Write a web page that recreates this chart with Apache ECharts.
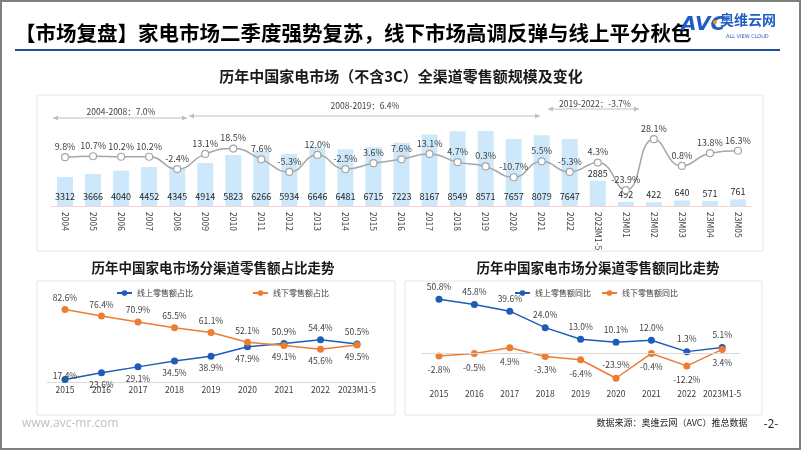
<!DOCTYPE html>
<html><head><meta charset="utf-8">
<script src="https://cdn.jsdelivr.net/npm/echarts@6/dist/echarts.min.js"></script>
<style>html,body{margin:0;padding:0;background:#fff}#c{width:802px;height:451px}</style>
</head><body><div id="c"></div>
<script>
// ---- Data ----
const categories = ['2004','2005','2006','2007','2008','2009','2010','2011','2012','2013','2014','2015','2016','2017','2018','2019','2020','2021','2022','2023M1-5','23M01','23M02','23M03','23M04','23M05'];
const sales = [3312,3666,4040,4452,4345,4914,5823,6266,5934,6646,6481,6715,7223,8167,8549,8571,7657,8079,7647,2885,492,422,640,571,761];
const growth = [9.8,10.7,10.2,10.2,-2.4,13.1,18.5,7.6,-5.3,12.0,-2.5,3.6,7.6,13.1,4.7,0.3,-10.7,5.5,-5.3,4.3,-23.9,28.1,0.8,13.8,16.3];

const years = ['2015','2016','2017','2018','2019','2020','2021','2022','2023M1-5'];
const onlineShare = [17.4,23.6,29.1,34.5,38.9,47.9,50.9,54.4,50.5];
const offlineShare = [82.6,76.4,70.9,65.5,61.1,52.1,49.1,45.6,49.5];
const onlineYoY = [50.8,45.8,39.6,24.0,13.0,10.1,12.0,1.3,5.1];
const offlineYoY = [-2.8,-0.5,4.9,-3.3,-6.4,-23.9,-0.4,-12.2,3.4];

const FONT = '"Noto Sans CJK SC","Noto Sans",sans-serif';
const BLUE = '#1f5cb8', ORANGE = '#ed7d31', TXT = '#404040';
const FS = 8.5;

const chart = echarts.init(document.getElementById('c'), null, {renderer:'canvas'});
const pct = p => p.value.toFixed(1) + '%';

const barData = sales.map((v,i) => i >= 19 ? {value:v, label:{position:'top', distance:3}} : v);
const onShareData = onlineShare.map((v,i) => ({value:v, label:{position: i === 0 ? 'inside' : (v > offlineShare[i] ? 'top' : 'bottom'), offset: i === 0 ? [0,-4] : [0,0]}}));
const offShareData = offlineShare.map((v,i) => ({value:v, label:{position: v > onlineShare[i] ? 'top' : 'bottom'}}));
const offYoYData = offlineYoY.map((v,i) => ({value:v, label:{position: v < -20 ? 'top' : 'bottom'}}));

function arrow(x1, x2, y, color) {
  const a = 5, h = 2.5;
  return [
    {type:'line', shape:{x1:x1, y1:y, x2:x2, y2:y}, style:{stroke:color, lineWidth:1}},
    {type:'polygon', shape:{points:[[x1,y],[x1+a,y-h],[x1+a,y+h]]}, style:{fill:color}},
    {type:'polygon', shape:{points:[[x2,y],[x2-a,y-h],[x2-a,y+h]]}, style:{fill:color}}
  ];
}
const AC = '#bfbfbf';

const graphics = [
  {type:'rect', z:-10, shape:{x:37, y:95, width:726, height:156}, style:{fill:'#fff', stroke:'#e6e6e6', lineWidth:1}},
  {type:'rect', z:-10, shape:{x:37, y:281, width:358, height:134}, style:{fill:'#fff', stroke:'#e6e6e6', lineWidth:1}},
  {type:'rect', z:-10, shape:{x:405, y:281, width:357, height:134}, style:{fill:'#fff', stroke:'#e6e6e6', lineWidth:1}},
  {type:'rect', z:50, shape:{x:1, y:1, width:799, height:448}, style:{fill:'none', stroke:'#808080', lineWidth:2}},
  {type:'text', left:15, top:23, style:{text:'【市场复盘】家电市场二季度强势复苏，线下市场高调反弹与线上平分秋色', font:'bold 20.5px '+FONT, fill:'#000'}},
  {type:'line', shape:{x1:15, y1:50, x2:780, y2:50}, style:{stroke:'#1f4e9a', lineWidth:2}},
  {type:'text', left:681, top:15, style:{text:'AVC', font:'italic bold 20px "DejaVu Sans",sans-serif', fill:'#1f5cc4'}},
  {type:'circle', shape:{cx:715, cy:22, r:2}, style:{fill:'#f39c12'}},
  {type:'text', left:720, top:13, style:{text:'奥维云网', font:'bold 14px '+FONT, fill:'#1f5cc4'}},
  {type:'text', left:726, top:34, style:{text:'ALL VIEW CLOUD', font:'5px "DejaVu Sans",sans-serif', fill:'#1f5cc4'}},
  {type:'text', x:401, y:76, style:{text:'历年中国家电市场（不含3C）全渠道零售额规模及变化', font:'bold 15px '+FONT, fill:'#1a1a1a', textAlign:'center', textVerticalAlign:'middle'}},
  {type:'text', x:213, y:268, style:{text:'历年中国家电市场分渠道零售额占比走势', font:'bold 13.5px '+FONT, fill:'#1a1a1a', textAlign:'center', textVerticalAlign:'middle'}},
  {type:'text', x:598, y:268, style:{text:'历年中国家电市场分渠道零售额同比走势', font:'bold 13.5px '+FONT, fill:'#1a1a1a', textAlign:'center', textVerticalAlign:'middle'}},
  ...arrow(53, 187, 118, AC),
  ...arrow(189, 540, 116, AC),
  ...arrow(548, 639, 109, AC),
  {type:'text', x:121, y:112, style:{text:'2004-2008：7.0%', font:FS+'px '+FONT, fill:TXT, textAlign:'center', textVerticalAlign:'middle'}},
  {type:'text', x:365, y:106, style:{text:'2008-2019：6.4%', font:FS+'px '+FONT, fill:TXT, textAlign:'center', textVerticalAlign:'middle'}},
  {type:'text', x:595, y:104, style:{text:'2019-2022：-3.7%', font:FS+'px '+FONT, fill:TXT, textAlign:'center', textVerticalAlign:'middle'}},
  {type:'text', left:22, top:418, style:{text:'www.avc-mr.com', font:'12px "Open Sans",sans-serif', fill:'#c0c0c0'}},
  {type:'text', x:672, y:423, style:{text:'数据来源：奥维云网（AVC）推总数据', font:'9px '+FONT, fill:'#262626', textAlign:'center', textVerticalAlign:'middle'}},
  {type:'text', x:771, y:423, style:{text:'-2-', font:'12px '+FONT, fill:'#262626', textAlign:'center', textVerticalAlign:'middle'}}
];

const lblStyle = {fontSize:FS, color:TXT, fontFamily:FONT};

chart.setOption({
  animation:false,
  textStyle:{fontFamily:FONT},
  graphic: graphics,
  legend:[
    {left:111, top:284, itemWidth:15, itemHeight:7, itemGap:59, data:['线上零售额占比','线下零售额占比'], textStyle:{fontSize:8, color:TXT}},
    {left:509, top:284, itemWidth:15, itemHeight:7, itemGap:10, data:['线上零售额同比','线下零售额同比'], textStyle:{fontSize:8, color:TXT}}
  ],
  grid:[
    {left:51, right:50, top:101, height:105},
    {left:46.75, width:328.5, top:301.5, height:80.5},
    {left:421.3, width:318.6, top:289.6, height:95.1}
  ],
  xAxis:[
    {gridIndex:0, type:'category', data:categories, axisTick:{show:false},
     axisLine:{lineStyle:{color:'#f3d3d3'}},
     axisLabel:{rotate:-90, fontSize:8.5, color:TXT, margin:6, interval:0}},
    {gridIndex:1, type:'category', data:years, axisTick:{show:false},
     axisLine:{lineStyle:{color:'#d9d9d9'}},
     axisLabel:{fontSize:FS, color:TXT, margin:4, interval:0}},
    {gridIndex:2, type:'category', data:years, axisTick:{show:false},
     axisLine:{show:false},
     axisLabel:{fontSize:FS, color:TXT, margin:5, interval:0}}
  ],
  yAxis:[
    {gridIndex:0, min:0, max:12000, show:false},
    {gridIndex:0, min:-40, max:67, show:false},
    {gridIndex:1, min:15, max:90, show:false},
    {gridIndex:2, min:-30, max:60, show:false}
  ],
  series:[
    {type:'bar', xAxisIndex:0, yAxisIndex:0, data:barData, barWidth:16,
     itemStyle:{color:'#cde8fa'},
     label:{show:true, position:'insideBottom', distance:5, fontSize:9, color:'#262626'}},
    {type:'line', xAxisIndex:0, yAxisIndex:1, data:growth, smooth:true,
     symbol:'circle', symbolSize:7,
     lineStyle:{color:'#a6a6a6', width:1.5},
     itemStyle:{color:'#fff', borderColor:'#a6a6a6', borderWidth:1.2},
     label:{show:true, position:'top', distance:2, fontSize:9, color:TXT, formatter:pct}},
    {name:'线上零售额占比', type:'line', xAxisIndex:1, yAxisIndex:2, data:onShareData,
     symbol:'circle', symbolSize:7, lineStyle:{color:BLUE, width:1.5}, itemStyle:{color:BLUE},
     label:Object.assign({show:true, distance:4, formatter:pct}, lblStyle)},
    {name:'线下零售额占比', type:'line', xAxisIndex:1, yAxisIndex:2, data:offShareData,
     symbol:'circle', symbolSize:7, lineStyle:{color:ORANGE, width:1.5}, itemStyle:{color:ORANGE},
     label:Object.assign({show:true, distance:4, formatter:pct}, lblStyle)},
    {name:'线上零售额同比', type:'line', xAxisIndex:2, yAxisIndex:3, data:onlineYoY,
     symbol:'circle', symbolSize:7, lineStyle:{color:BLUE, width:1.5}, itemStyle:{color:BLUE},
     label:Object.assign({show:true, position:'top', distance:5, formatter:pct}, lblStyle),
     markLine:{silent:true, symbol:'none', label:{show:false}, lineStyle:{color:'#d9d9d9', type:'solid', width:1}, data:[{yAxis:0}]}},
    {name:'线下零售额同比', type:'line', xAxisIndex:2, yAxisIndex:3, data:offYoYData,
     symbol:'circle', symbolSize:7, lineStyle:{color:ORANGE, width:1.5}, itemStyle:{color:ORANGE},
     label:Object.assign({show:true, distance:6, formatter:pct}, lblStyle)}
  ]
});
</script></body></html>
